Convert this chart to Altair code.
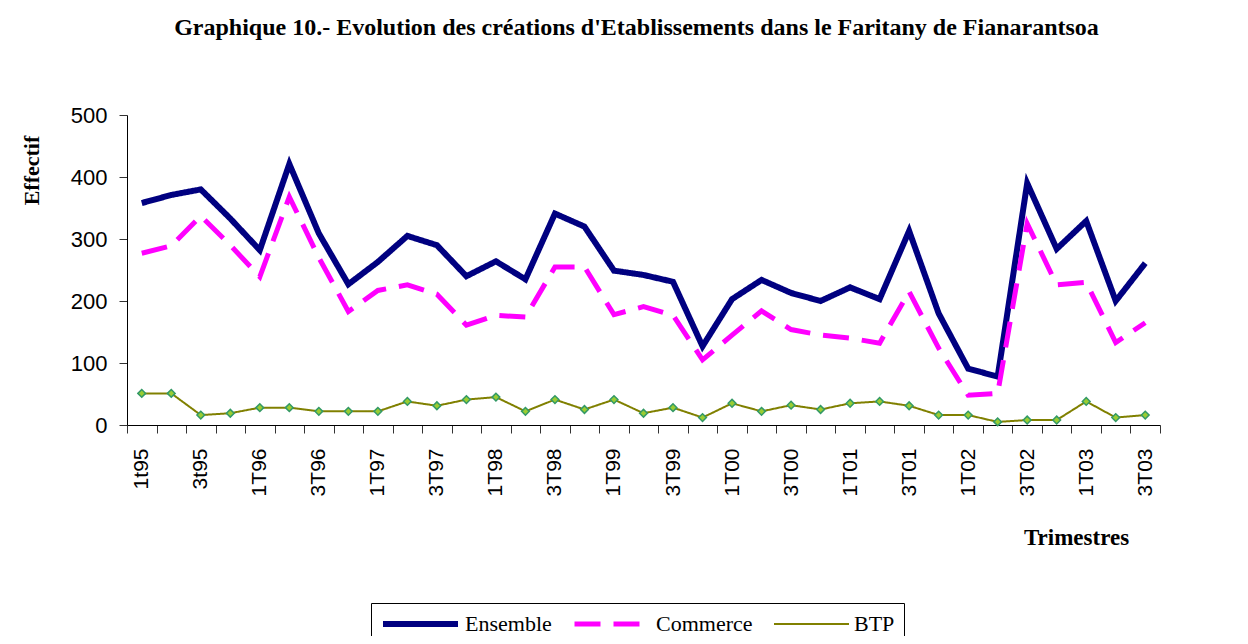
import json
import altair as alt
import pandas as pd

quarters = [
    "1t95", "2t95", "3t95", "4t95",
    "1T96", "2T96", "3T96", "4T96",
    "1T97", "2T97", "3T97", "4T97",
    "1T98", "2T98", "3T98", "4T98",
    "1T99", "2T99", "3T99", "4T99",
    "1T00", "2T00", "3T00", "4T00",
    "1T01", "2T01", "3T01", "4T01",
    "1T02", "2T02", "3T02", "4T02",
    "1T03", "2T03", "3T03",
]
shown_labels = quarters[::2]

ensemble = [358, 371, 380, 333, 282, 421, 309, 227, 263, 305, 290, 240, 264, 235, 341,
            320, 249, 242, 231, 127, 203, 234, 213, 200, 222, 203, 313, 180, 91, 78,
            390, 284, 329, 200, 261]
commerce = [277, 289, 337, 290, 239, 368, 270, 183, 217, 226, 211, 161, 177, 174, 255,
            255, 178, 191, 177, 105, 145, 184, 154, 145, 140, 132, 215, 124, 48, 51,
            325, 226, 230, 133, 165]
btp = [51, 51, 16, 19, 28, 28, 22, 22, 22, 38, 31, 41, 45, 22, 41,
       25, 41, 19, 28, 12, 35, 22, 32, 25, 35, 38, 31, 16, 16, 5,
       8, 8, 38, 12, 16]

series_names = ["Ensemble", "Commerce", "BTP"]
series_colors = ["#000080", "#FF00FF", "#808000"]
series_dash = [[1, 0], [26, 13], [1, 0]]
series_width = [6, 5, 2]
y_ticks = [0, 100, 200, 300, 400, 500]

rows = []
for name, vals in zip(series_names, [ensemble, commerce, btp]):
    for i, (q, v) in enumerate(zip(quarters, vals)):
        rows.append({"trimestre": q, "serie": name, "effectif": v, "ordre": i})
df = pd.DataFrame(rows)

SERIF = "Liberation Serif"
SANS = "Liberation Sans"

x_enc = alt.X(
    "trimestre:N",
    sort=quarters,
    scale=alt.Scale(type="band", paddingInner=0, paddingOuter=0),
    axis=alt.Axis(
        title="Trimestres",
        tickBand="extent",
        labelExpr="indexof(" + json.dumps(shown_labels) + ", datum.value) >= 0 ? datum.value : ''",
        labelAngle=270,
        labelAlign="right",
        labelBaseline="middle",
        labelFont=SANS,
        labelFontSize=21,
        labelPadding=15,
        labelColor="#000",
        labelOverlap=False,
        tickSize=8,
        tickColor="#333",
        domainColor="#000",
        titleFont=SERIF,
        titleFontSize=23,
        titleFontWeight="bold",
        titleColor="#000",
        titleX=949,
        titleY=112,
        titleAlign="center",
        titleBaseline="middle",
        titleAngle=0,
    ),
)

y_enc = alt.Y(
    "effectif:Q",
    scale=alt.Scale(domain=[0, 500], nice=False),
    axis=alt.Axis(
        title="Effectif",
        values=y_ticks,
        grid=False,
        labelFont=SANS,
        labelFontSize=22,
        labelPadding=12,
        labelColor="#000",
        tickSize=8,
        tickColor="#333",
        domainColor="#000",
        titleFont=SERIF,
        titleFontSize=22,
        titleFontWeight="bold",
        titleColor="#000",
        titleX=-96,
        titleY=55,
        titleAngle=270,
        titleAlign="center",
        titleBaseline="middle",
    ),
)

leg = alt.Legend(
    title=None,
    orient="none",
    legendX=244,
    legendY=488,
    direction="horizontal",
    symbolType="stroke",
    symbolSize=5625,
    clipHeight=24,
    labelFont=SERIF,
    labelFontSize=22,
    labelColor="#000",
    labelOffset=4,
    columnPadding=20,
    strokeColor="#000",
    padding=9,
)

lines = alt.Chart(df).mark_line().encode(
    x=x_enc,
    y=y_enc,
    color=alt.Color("serie:N", scale=alt.Scale(domain=series_names, range=series_colors), legend=leg),
    strokeDash=alt.StrokeDash("serie:N", scale=alt.Scale(domain=series_names, range=series_dash), legend=leg),
    strokeWidth=alt.StrokeWidth("serie:N", scale=alt.Scale(type="ordinal", domain=series_names, range=series_width), legend=leg),
    order=alt.Order("ordre:Q"),
)

points = alt.Chart(df).transform_filter(alt.datum.serie == "BTP").mark_point(
    shape="diamond", filled=True, fill="#9ACD32", stroke="#339966", strokeWidth=1.5, size=60, opacity=1
).encode(x=x_enc, y=y_enc)

chart = alt.layer(lines, points).properties(
    width=1033,
    height=310,
    autosize="none",
    padding={"left": 119, "top": 107, "right": 70, "bottom": 211},
    background="white",
    title=alt.Title(
        "Graphique 10.- Evolution des créations d'Etablissements dans le Faritany de Fianarantsoa",
        font=SERIF,
        fontSize=24,
        fontWeight="bold",
        color="#000",
        anchor="middle",
        frame="group",
        offset=64,
        dx=-7,
    ),
).configure_view(stroke=None)

chart.save("out.html", embed_options={"renderer": "svg", "actions": False})
